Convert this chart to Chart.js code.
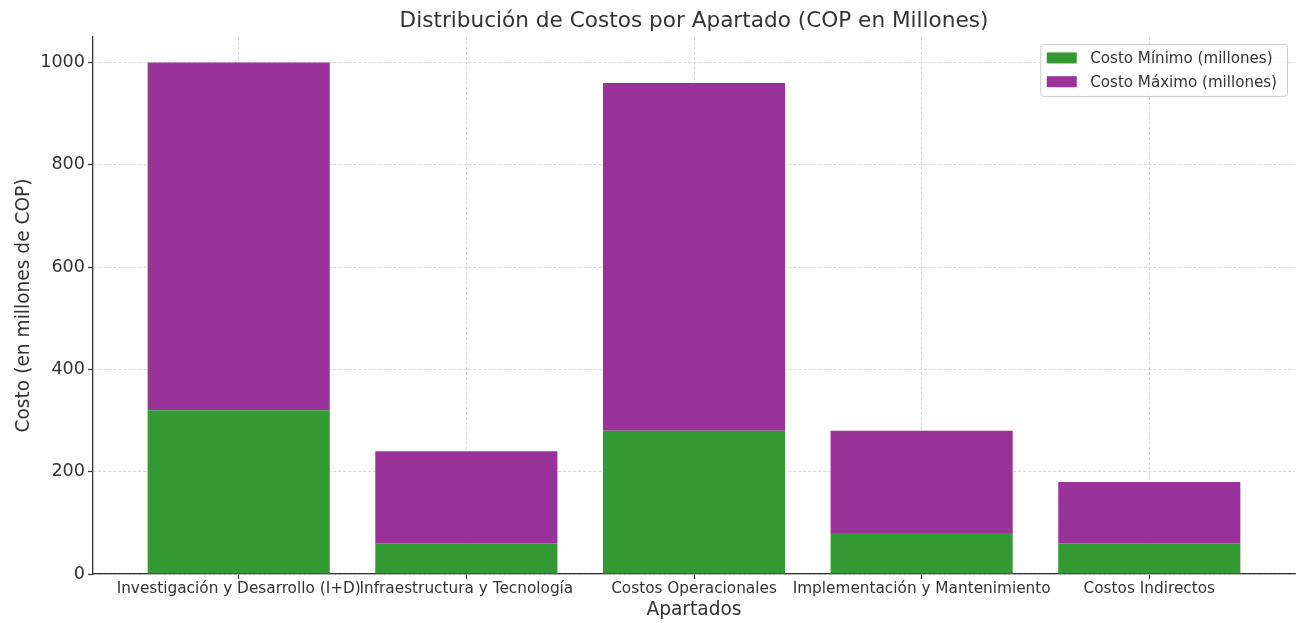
<!DOCTYPE html>
<html><head><meta charset="utf-8">
<script src="https://cdn.jsdelivr.net/npm/chart.js@4.4.1/dist/chart.umd.min.js"></script>
<style>html,body{margin:0;padding:0;background:#fff}#wrap{width:1298px;height:623px}</style>
</head><body><div id="wrap"><canvas id="c" width="1298" height="623"></canvas></div>
<script>
const categories = ["Investigación y Desarrollo (I+D)", "Infraestructura y Tecnología", "Costos Operacionales", "Implementación y Mantenimiento", "Costos Indirectos"];
const costoMinimo = [320, 60, 280, 80, 60];
const costoMaximo = [680, 180, 680, 200, 120];
const yTicks = [0, 200, 400, 600, 800, 1000];
const seriesLabels = ["Costo Mínimo (millones)", "Costo Máximo (millones)"];

const FONT = "'DejaVu Sans', sans-serif";
const TXT = '#333333';

const insideLegend = {
  id: 'insideLegend',
  afterDraw(chart) {
    const ctx = chart.ctx, a = chart.chartArea;
    const fs = 15.1;
    ctx.save();
    ctx.font = fs + "px " + FONT;
    const labels = chart.data.datasets.map(d => d.label);
    const tw = Math.max(...labels.map(l => ctx.measureText(l).width));
    const w = tw + 60, h = 52;
    const x = a.right - 8 - w, y = a.top + 7;
    ctx.beginPath();
    if (ctx.roundRect) ctx.roundRect(x + 0.5, y + 0.5, w, h, 3); else ctx.rect(x + 0.5, y + 0.5, w, h);
    ctx.fillStyle = 'rgba(255,255,255,0.8)';
    ctx.fill();
    ctx.strokeStyle = '#cccccc';
    ctx.lineWidth = 1;
    ctx.stroke();
    chart.data.datasets.forEach((d, i) => {
      const cy = y + 14 + i * 23.8;
      ctx.fillStyle = d.backgroundColor;
      ctx.fillRect(x + 6.5, cy - 5.5, 30, 11);
      ctx.fillStyle = TXT;
      ctx.textBaseline = 'middle';
      ctx.textAlign = 'left';
      ctx.fillText(d.label, x + 50, cy + 1);
    });
    ctx.restore();
  }
};

const chart = new Chart(document.getElementById('c'), {
  type: 'bar',
  data: {
    datasets: [
      { label: seriesLabels[0], data: costoMinimo.map((v, i) => ({ x: i, y: v })), backgroundColor: '#339933', borderWidth: 0 },
      { label: seriesLabels[1], data: costoMaximo.map((v, i) => ({ x: i, y: v })), backgroundColor: '#993399', borderWidth: 0 }
    ]
  },
  options: {
    responsive: false,
    animation: false,
    devicePixelRatio: 1,
    layout: { padding: { left: 0, right: 3, top: 0, bottom: 0 } },
    datasets: { bar: { categoryPercentage: 0.8, barPercentage: 1.0 } },
    plugins: {
      legend: { display: false },
      tooltip: { enabled: false },
      title: {
        display: true, fullSize: false,
        text: 'Distribución de Costos por Apartado (COP en Millones)',
        color: TXT, font: { family: FONT, size: 21.6, weight: 'normal' },
        padding: { top: 8, bottom: 3 }
      }
    },
    scales: {
      x: {
        type: 'linear', stacked: true, min: -0.64, max: 4.64, z: 1, offset: false,
        afterBuildTicks: (ax) => { ax.ticks = categories.map((_, i) => ({ value: i })); },
        afterFit: (ax) => { ax.height = 49; },
        ticks: {
          autoSkip: false, maxRotation: 0, minRotation: 0, padding: 1,
          color: TXT, font: { family: FONT, size: 15.3 },
          callback: (v) => categories[v] ?? ''
        },
        grid: { offset: false, color: '#cccccc', lineWidth: 0.8, tickLength: 5, tickColor: '#333333', tickWidth: 1.2, tickBorderDash: [] },
        border: { display: true, color: '#333333', width: 1.3, dash: [3, 2] },
        title: { display: true, text: 'Apartados', color: TXT, font: { family: FONT, size: 18.6 }, padding: { top: 0, bottom: 2 } }
      },
      y: {
        type: 'linear', stacked: true, min: 0, max: 1050, z: 1,
        afterBuildTicks: (ax) => { ax.ticks = yTicks.map(v => ({ value: v })); },
        afterFit: (ax) => { ax.width = 93; },
        ticks: { padding: 3, color: TXT, font: { family: FONT, size: 17.6 }, callback: (v) => String(v) },
        grid: { color: '#cccccc', lineWidth: 0.8, tickLength: 5, tickColor: '#333333', tickWidth: 1.2, tickBorderDash: [] },
        border: { display: true, color: '#333333', width: 1.3, dash: [3, 2] },
        title: { display: true, text: 'Costo (en millones de COP)', color: TXT, font: { family: FONT, size: 18.6 }, padding: { top: 13, bottom: 0 } }
      }
    }
  },
  plugins: [insideLegend]
});
</script>
</body></html>
